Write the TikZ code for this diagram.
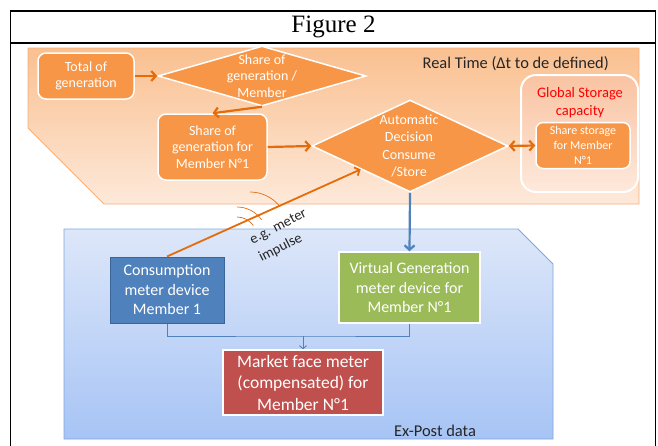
\documentclass[tikz,border=0pt]{standalone}
\usepackage{fontspec}
\setmainfont{Carlito}
\newfontfamily\timesf{Liberation Serif}
\usetikzlibrary{shapes.geometric,arrows.meta}
\definecolor{boxorange}{HTML}{F79646}
\definecolor{arrorange}{HTML}{E46C0A}
\definecolor{regtop}{HTML}{FAC090}
\definecolor{regbot}{HTML}{FDE9DA}
\definecolor{regline}{HTML}{F5B07A}
\definecolor{bluetop}{HTML}{DDE7F9}
\definecolor{bluebot}{HTML}{A7C4F5}
\definecolor{blueline}{HTML}{7FA6DE}
\definecolor{consfill}{HTML}{4F81BD}
\definecolor{consline}{HTML}{3A6598}
\definecolor{virtfill}{HTML}{9BBB59}
\definecolor{mktfill}{HTML}{C0504D}
\definecolor{glotop}{HTML}{F9C3A2}
\definecolor{globot}{HTML}{FEE9DC}
\definecolor{arrblue}{HTML}{4F81BD}
\tikzset{
  obox/.style={draw=white, line width=1.5pt, fill=boxorange, rounded corners=8pt,
    text=white, align=center, inner sep=0pt, font=\fontsize{14}{16.5}\selectfont},
  odiam/.style={draw=white, line width=1.5pt, fill=boxorange, diamond, inner sep=0pt},
  dtext/.style={text=white, align=center, inner sep=0pt},
  mbox/.style={draw=white, line width=1.5pt, text=white, align=center, inner sep=0pt,
    font=\fontsize{16}{19.5}\selectfont},
  oarrow/.style={draw=arrorange, line width=2.2pt, -{Straight Barb[length=4.5pt,width=10pt]}},
  barrow/.style={draw=arrblue, line width=2.2pt, -{Straight Barb[length=4.5pt,width=10pt]}},
  thinblue/.style={draw=arrblue, line width=0.9pt},
  wave/.style={draw=arrorange, line width=0.7pt},
}
\begin{document}
\begin{tikzpicture}[x=1pt,y=-1pt]
\useasboundingbox (0,0) rectangle (658,445);
% frame
\draw[line width=1.6pt] (10.5,450) -- (10.5,11) -- (655.5,11) -- (655.5,450);
\draw[line width=1.6pt] (10.5,43) -- (655.5,43);
\node[font=\timesf\fontsize{25}{27}\selectfont, inner sep=0pt] (title) at (333.5,27) {Figure 2};
% regions
\path[draw=regline, line width=0.8pt, top color=regtop, bottom color=regbot]
  (28,48) -- (639,48) -- (639,204) -- (104,204) -- (28,128) -- cycle;
\path[draw=blueline, line width=0.8pt, top color=bluetop, bottom color=bluebot]
  (64,229) -- (518,229) -- (553,264) -- (553,439) -- (64,439) -- cycle;
\node[inner sep=0pt, anchor=east, font=\fontsize{16.4}{18}\selectfont, text=black!85] (rt) at (609,64) {Real Time (Δt to de defined)};
\node[inner sep=0pt, font=\fontsize{16.5}{18}\selectfont, text=black!85] (ep) at (435,431) {Ex-Post data};
% orange nodes
\node[obox, minimum width=96pt, minimum height=46pt] (tot) at (86,76) {Total of\\generation};
\node[odiam, minimum width=208pt, minimum height=60pt] (d1) at (262,76) {};
\node[dtext, font=\fontsize{14}{16.5}\selectfont] (d1t) at (262,76) {Share of\\generation /\\Member};
\node[obox, minimum width=109pt, minimum height=66pt] (share) at (212.5,147) {Share of\\generation for\\Member N°1};
\node[odiam, minimum width=196pt, minimum height=92pt] (d2) at (410,146) {};
\node[dtext, font=\fontsize{14}{17.3}\selectfont] (d2t) at (409,146) {Automatic\\Decision\\Consume\\/Store};
\node[draw=white, line width=2pt, rounded corners=15pt, top color=glotop, bottom color=globot,
  minimum width=117pt, minimum height=117pt, inner sep=0pt] (glob) at (579.5,133.5) {};
\node[text=red, align=center, inner sep=0pt, font=\fontsize{14.5}{18}\selectfont] (globt) at (580,103) {Global Storage\\capacity};
\node[obox, rounded corners=7pt, minimum width=94pt, minimum height=46pt, font=\fontsize{12}{15}\selectfont] (stor) at (583,145.5) {Share storage\\for Member\\N°1};
% blue-region nodes
\node[draw=consline, line width=1pt, fill=consfill, text=white, align=center, inner sep=0pt,
  minimum width=114pt, minimum height=66pt, font=\fontsize{16}{19.5}\selectfont] (cons) at (167,290) {Consumption\\meter device\\Member 1};
\node[mbox, fill=virtfill, minimum width=141pt, minimum height=71pt] (virt) at (409.5,287.5) {Virtual Generation\\meter device for\\Member N°1};
\node[mbox, fill=mktfill, minimum width=160pt, minimum height=65pt, font=\fontsize{17.5}{21.5}\selectfont] (mkt) at (303,382.5) {Market face meter\\(compensated) for\\Member N°1};
% connectors
\draw[oarrow] (tot.east) -- (d1.west);
\draw[oarrow] (d1.south) -- (share.north);
\draw[oarrow] (share.east) -- (d2.west);
\draw[draw=arrorange, line width=2.2pt, {Straight Barb[length=4.5pt,width=10pt]}-{Straight Barb[length=4.5pt,width=10pt]}] (d2.east) -- (stor.west);
\draw[draw=arrorange, line width=1.8pt, -{Straight Barb[length=4pt,width=9pt]}] (cons.north) -- (d2.south west);
\draw[barrow] (d2.south) -- (virt.north);
\coordinate (j) at (303,336);
\draw[thinblue] (cons.south) |- (j) -| (virt.south);
\draw[thinblue, -{Straight Barb[length=3pt,width=7pt]}] (j) -- (mkt.north);
% impulse waves
\draw[wave] (250,192) arc[start angle=90, end angle=38, radius=38pt];
\draw[wave] (237,207) arc[start angle=90, end angle=35, radius=30pt];
\draw[wave] (237,217) arc[start angle=90, end angle=35, radius=20pt];
\node[rotate=27, align=left, inner sep=0pt, text=black!85, font=\fontsize{14.5}{20}\selectfont] (imp) at (283,236) {e.g. meter\\impulse};
\end{tikzpicture}
\end{document}
